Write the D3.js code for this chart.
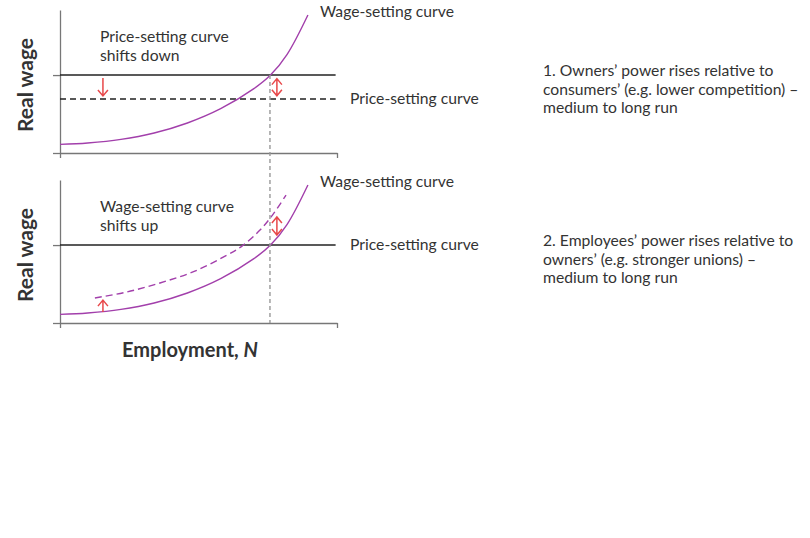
<!DOCTYPE html>
<html>
<head>
<meta charset="utf-8">
<script src="https://cdn.jsdelivr.net/npm/d3@7"></script>
<style>
  body { margin: 0; background: #fff; }
  text { font-family: Lato, "Noto Sans", sans-serif; fill: #333; }
</style>
</head>
<body>
<div class="canvas"></div>
<script>
// wage-setting curve (employment, real wage)
const wageN = [0, 1, 2.2, 3.4, 4.6, 5.8, 7, 7.6, 8.2, 8.95];
const wageW = [0.6, 0.7, 0.95, 1.4, 2.1, 3.1, 4.5, 5.45, 6.9, 9.65];
// shifted wage-setting curve (bottom panel, dashed)
const wageUpN = [1.26, 2.42, 3.61, 4.8, 6.03, 6.57, 7.22, 7.69, 8.16];
const wageUpW = [1.75, 2.17, 2.8, 3.57, 4.75, 5.38, 6.5, 7.6, 8.95];
// price-setting levels
const priceW = 5.45;
const priceLowW = 3.78;
const eqN = 7.58;

const dims = {width: 810, height: 538};
const svg = d3.select(".canvas").append("svg")
    .attr("width", dims.width)
    .attr("height", dims.height);

const x = d3.scaleLinear().domain([0, 10]).range([60, 337]);

const purple = "#a23fab";
const red = "#e8484a";

const line = y => d3.line()
    .x(d => x(d[0]))
    .y(d => y(d[1]))
    .curve(d3.curveCatmullRom.alpha(0.5));

const wagePts = wageN.map((n, i) => [n, wageW[i]]);
const wageUpPts = wageUpN.map((n, i) => [n, wageUpW[i]]);

// arrow: line with open chevron at the (x, to) end
const arrow = (g, y, ax, from, to, both) => {
    const x0 = x(ax), y0 = y(from), y1 = y(to);
    const head = (yy, dir) => `M${x0 - 5},${yy - dir * 6}L${x0},${yy}L${x0 + 5},${yy - dir * 6}`;
    const dir = y1 > y0 ? 1 : -1;
    let d = `M${x0},${y0}L${x0},${y1}` + head(y1, dir);
    if (both) d += head(y0, -dir);
    g.append("path").attr("d", d).attr("fill", "none")
        .attr("stroke", red).attr("stroke-width", 1.5);
};

const panel = (top, opts) => {
    const y = d3.scaleLinear().domain([0, 10]).range([top + 143, top]);
    const g = svg.append("g");

    // axes
    g.append("g")
        .attr("transform", `translate(0,${y(0)})`)
        .call(d3.axisBottom(x).tickValues([0, 10]).tickSize(5).tickSizeOuter(0).tickFormat(""))
        .call(a => a.selectAll("path,line").attr("stroke", "#777").attr("stroke-width", 1.3));
    g.append("g")
        .attr("transform", `translate(${x(0)},0)`)
        .call(d3.axisLeft(y).tickValues([0, priceW]).tickSize(7).tickSizeOuter(0).tickFormat(""))
        .call(a => a.selectAll("path,line").attr("stroke", "#777").attr("stroke-width", 1.3));

    // price-setting curve
    g.append("line")
        .attr("x1", x(0)).attr("x2", x(9.95))
        .attr("y1", y(priceW)).attr("y2", y(priceW))
        .attr("stroke", "#222").attr("stroke-width", 1.4);

    if (opts.priceDown) {
        g.append("line")
            .attr("x1", x(0)).attr("x2", x(9.95))
            .attr("y1", y(priceLowW)).attr("y2", y(priceLowW))
            .attr("stroke", "#222").attr("stroke-width", 1.4)
            .attr("stroke-dasharray", "6,4");
    }

    if (opts.wageUp) {
        g.append("path")
            .attr("d", line(y)(wageUpPts))
            .attr("fill", "none").attr("stroke", purple)
            .attr("stroke-width", 1.4).attr("stroke-dasharray", "7,4");
    }

    // wage-setting curve
    g.append("path")
        .attr("d", line(y)(wagePts))
        .attr("fill", "none").attr("stroke", purple).attr("stroke-width", 1.4);

    // labels
    g.append("text").attr("x", 320).attr("y", y(10) + 7).attr("font-size", 15.7)
        .text("Wage-setting curve");
    g.append("text").attr("x", 350).attr("y", y(opts.priceDown ? priceLowW : priceW) + 5).attr("font-size", 15.7)
        .text("Price-setting curve");

    const note = g.append("text").attr("x", 100).attr("y", y(10) + 32).attr("font-size", 15.7);
    note.append("tspan").attr("x", 100).text(opts.note[0]);
    note.append("tspan").attr("x", 100).attr("dy", 18.5).text(opts.note[1]);

    g.append("text")
        .attr("transform", `translate(33,${top + 75}) rotate(-90)`)
        .attr("text-anchor", "middle")
        .attr("font-size", 21).attr("font-weight", "bold")
        .text("Real wage");

    const side = g.append("text").attr("x", 543).attr("y", top + 66).attr("font-size", 15.7);
    opts.side.forEach((s, i) => side.append("tspan").attr("x", 543).attr("dy", i ? 18.5 : 0).text(s));

    opts.arrows.forEach(a => arrow(g, y, a[0], a[1], a[2], a[3]));
    return y;
};

const yTop = panel(10, {
    priceDown: true,
    note: ["Price-setting curve", "shifts down"],
    side: ["1. Owners’ power rises relative to", "consumers’ (e.g. lower competition) –", "medium to long run"],
    arrows: [[1.55, 5.25, 3.99, false], [7.83, 5.2, 4.0, true]]
});
const yBot = panel(180, {
    wageUp: true,
    note: ["Wage-setting curve", "shifts up"],
    side: ["2. Employees’ power rises relative to", "owners’ (e.g. stronger unions) –", "medium to long run"],
    arrows: [[1.55, 0.77, 1.6, false], [7.83, 6.15, 7.41, true]]
});

// employment level where both curves meet
svg.append("line")
    .attr("x1", x(eqN)).attr("x2", x(eqN))
    .attr("y1", yTop(priceW)).attr("y2", yBot(0))
    .attr("stroke", "#999").attr("stroke-width", 1.4)
    .attr("stroke-dasharray", "4,3");

const xl = svg.append("text")
    .attr("x", 190).attr("y", 357)
    .attr("text-anchor", "middle")
    .attr("font-size", 20).attr("font-weight", "bold");
xl.append("tspan").text("Employment, ");
xl.append("tspan").attr("font-style", "italic").text("N");
</script>
</body>
</html>
